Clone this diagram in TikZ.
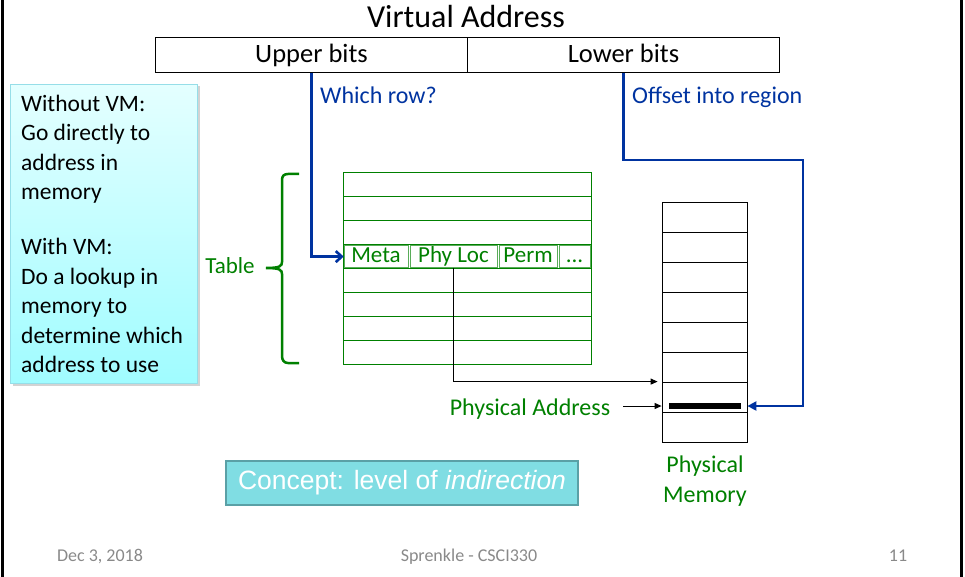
\documentclass[tikz,border=0pt]{standalone}
\usepackage{fontspec}
\setmainfont{Carlito}
\newfontfamily\conceptfont{Liberation Sans}
\usetikzlibrary{arrows.meta,shadows,calc}

\definecolor{tblgreen}{RGB}{0,128,0}
\definecolor{ptrblue}{RGB}{0,51,160}
\definecolor{footgray}{RGB}{137,137,137}
\definecolor{notetop}{RGB}{228,255,255}
\definecolor{notebot}{RGB}{160,252,255}
\definecolor{noteedge}{RGB}{150,222,232}
\definecolor{conceptfill}{RGB}{128,221,227}
\definecolor{conceptedge}{RGB}{90,160,166}

\tikzset{
  ftitle/.style={font=\fontsize{32}{38}\selectfont},
  fbits/.style={font=\fontsize{26.5}{31}\selectfont},
  flabel/.style={font=\fontsize{24}{28}\selectfont},
  fbody/.style={font=\fontsize{23}{27}\selectfont},
  fbig/.style={font=\fontsize{24}{30}\selectfont},
  ffoot/.style={font=\fontsize{18}{21}\selectfont},
  addrfield/.style={draw, line width=1pt, minimum width=312pt, minimum height=35pt,
    inner sep=0pt, text height=20pt, text depth=4pt, anchor=north west, fbits},
  tblrow/.style={draw=tblgreen, line width=1pt, minimum width=248pt,
    minimum height=23.875pt, inner sep=0pt},
  tblcell/.style={draw=tblgreen!65, line width=0.6pt, minimum height=22pt,
    inner sep=0pt, text height=15.5pt, text depth=4.5pt, text=tblgreen, fbody},
  memrow/.style={draw, line width=0.8pt, minimum width=85pt, minimum height=30pt,
    inner sep=0pt},
  ptr/.style={ptrblue, line width=2.6pt},
  link/.style={black, line width=1pt, -{Triangle[length=7pt,width=6pt]}},
  greentext/.style={text=tblgreen, fbig, inner sep=0pt},
  bluetext/.style={text=ptrblue, flabel, inner sep=0pt, anchor=base west},
  foot/.style={text=footgray, ffoot, inner sep=0pt, anchor=base},
}

\begin{document}
\begin{tikzpicture}[x=1pt,y=-1pt]
\useasboundingbox (0,0) rectangle (965,577);

% slide edges
\draw[line width=3pt] (2,0) -- (2,577);
\draw[line width=3pt] (961,0) -- (961,577);

% virtual address split into two fields
\node[ftitle, inner sep=0pt, anchor=base] (vtitle) at (466,28) {Virtual Address};
\node[addrfield] (upper) at (155,37) {Upper bits};
\node[addrfield] (lower) at (467,37) {Lower bits};

\node[bluetext] (qrow) at (320,104) {Which row?};
\node[bluetext] (qoff) at (632,104) {Offset into region};

% side note
\node[draw=noteedge, line width=1pt, top color=notetop, bottom color=notebot,
  minimum width=187pt, minimum height=299pt, anchor=north west, inner sep=0pt,
  drop shadow={shadow xshift=2pt, shadow yshift=-2pt, opacity=0.35}] (note) at (10,84) {};
\node[anchor=north west, inner sep=0pt, align=left,
  font=\fontsize{23.5}{29.5}\selectfont] (notetext) at (21,94.5)
  {Without VM:\\Go directly to\\address in\\memory\\[25.5pt]With VM:\\Do a lookup in\\memory to\\determine which\\address to use};

% page table
\foreach \i in {1,2,3,5,6,7,8}
  \node[tblrow] (t\i) at (467,{173+23.875*(\i-0.5)}) {};
\node[tblrow] (t4) at (467,256.6) {};
\node[tblcell, minimum width=64pt] (meta) at (376,256.6) {Meta};
\node[tblcell, minimum width=87pt] (phyloc) at (453.5,256.6) {Phy Loc};
\node[tblcell, minimum width=58pt] (perm) at (528,256.6) {Perm};
\node[tblcell, minimum width=31pt] (more) at (574.5,256.6) {...};

% brace and its label
\draw[tblgreen, line width=2.5pt]
  (299,174) -- (288,174) .. controls (284,174) and (282,176) .. (282,180)
  -- (282,262) .. controls (282,266) and (280,268) .. (266,268)
  .. controls (280,268) and (282,270) .. (282,274)
  -- (282,356) .. controls (282,360) and (284,363) .. (288,363) -- (299,363);
\node[greentext, font=\fontsize{23}{27}\selectfont, anchor=base] (tlabel) at (230,273) {Table};

% physical memory
\foreach \i in {1,...,8}
  \node[memrow] (m\i) at (704.5,{202+30*(\i-0.5)}) {};
\node[fill=black, minimum width=72pt, minimum height=6pt, inner sep=0pt] (bar) at (705,406) {};
\node[greentext, align=center, anchor=north] (pmem) at (705,456)
  {Physical\\Memory};

\node[greentext, anchor=base] (paddr) at (530,415) {Physical Address};

% pointers
\coordinate (bend) at (803,160);
\draw[ptr, -{Straight Barb[length=6pt,width=11pt]}] (upper.south) |- (meta.west);
\draw[ptr, -{Triangle[length=9pt,width=9pt]}] (lower.south) |- (bend) |- (m7.east |- bar);
\draw[link, shorten >=4pt] (phyloc.south) |- (m7.north west);
\draw[link] ($(paddr.east |- bar)+(13,0)$) -- (m7.west |- bar);

% key idea
\node[draw=conceptedge, line width=1.5pt, fill=conceptfill, minimum width=352pt,
  minimum height=44pt, inner sep=0pt, text=white,
  font=\conceptfont\fontsize{26.5}{31}\selectfont] (concept) at (402,483)
  {Concept: level of \textit{indirection}};

% footer
\node[foot] (fdate) at (100,561) {Dec 3, 2018};
\node[foot] (fauthor) at (469,561) {Sprenkle - CSCI330};
\node[foot] (fpage) at (898,561) {11};
\end{tikzpicture}
\end{document}
